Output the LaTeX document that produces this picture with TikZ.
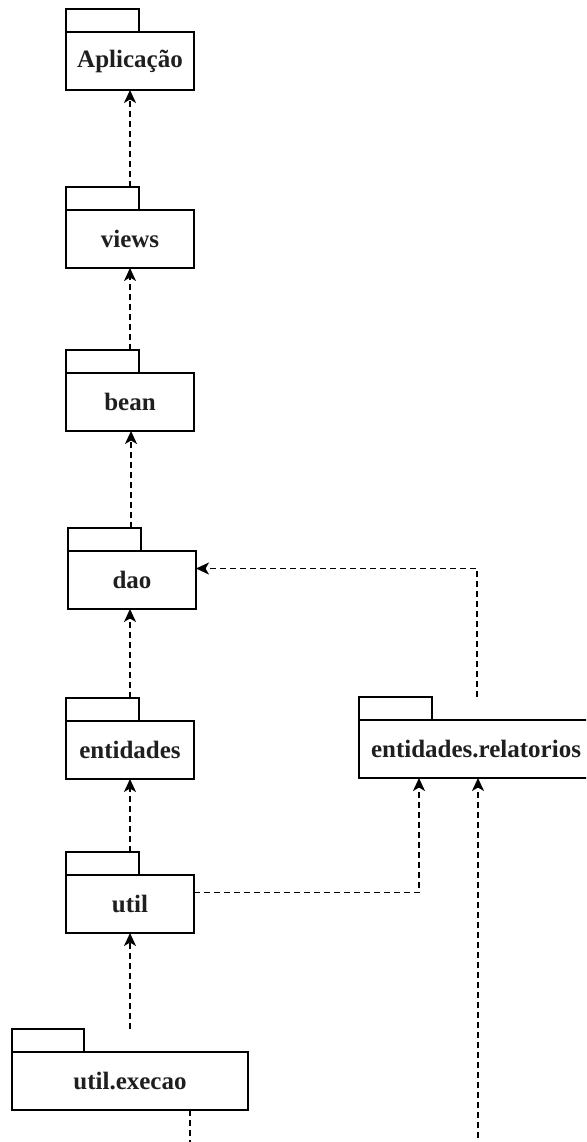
\documentclass[tikz,border=0pt]{standalone}
\usepackage{fontspec}
\setmainfont{Liberation Serif}
\usetikzlibrary{arrows.meta,calc}
\tikzset{
  pkgline/.style={draw=black,line width=1.5pt},
  pkgbox/.style={inner sep=0pt,outer sep=0pt,minimum height=81pt,anchor=north west},
  pkglabel/.style={inner sep=0pt,font=\bfseries\fontsize{25}{30}\selectfont,text=black!88},
  dep/.style={draw=black,line width=1.6pt,dash pattern=on 6pt off 4pt,
    -{Stealth[length=13pt,width=12pt,inset=3.5pt]}},
}
% #1 name, #2 x left, #3 y top of tab, #4 width, #5 tab width, #6 label
\newcommand\umlpkg[6]{%
  \node[pkgbox,minimum width=#4pt] (#1) at (#2,#3) {};
  \draw[pkgline] (#1.north west) rectangle ++(#5,23);
  \draw[pkgline] ($(#1.north west)+(0,23)$) rectangle (#1.south east);
  \node[pkglabel] (#1-lbl) at ($(#1.south)+(0,-29)$) {#6};
}
\begin{document}
\begin{tikzpicture}[x=1pt,y=-1pt]
\useasboundingbox (0,0) rectangle (586,1142);
\clip (0,0) rectangle (586,1142);
\umlpkg{app}{66}{9}{128}{73}{Aplicação}
\umlpkg{views}{66}{187}{128}{73}{views}
\umlpkg{bean}{66}{350}{128}{73}{bean}
\umlpkg{dao}{68}{528}{128}{73}{dao}
\umlpkg{ent}{66}{698}{128}{73}{entidades}
\umlpkg{rel}{359}{697}{234}{73}{entidades.relatorios}
\umlpkg{util}{66}{852}{128}{73}{util}
\umlpkg{exec}{12}{1029}{236}{72}{util.execao}

\draw[dep] (views.north) -- (app.south);
\draw[dep] (bean.north) -- (views.south);
\draw[dep] ([xshift=-1pt]dao.north) -- ([xshift=-1pt]dao.north |- bean.south);
\draw[dep] (ent.north) -- (ent.north |- dao.south);
\draw[dep] ([xshift=1pt]rel.north) |- (dao.east);
\draw[dep] (util.north) -- (ent.south);
\draw[dep] (util.east) -| ([xshift=-57pt]rel.south);
\draw[dep] (exec.north) -- (util.south);
\draw[dep] ([xshift=60pt]exec.south) -- ++(0,45) -| ([xshift=2pt]rel.south);
\end{tikzpicture}
\end{document}
